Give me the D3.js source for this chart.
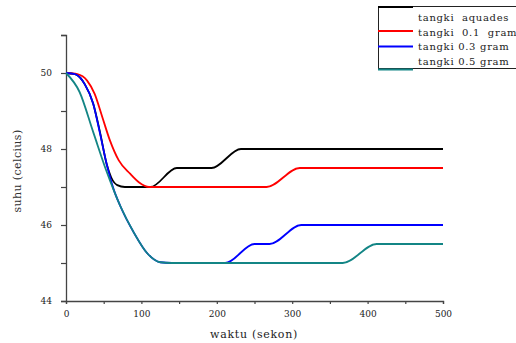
<!DOCTYPE html>
<html>
<head>
<meta charset="utf-8">
<script src="https://cdn.jsdelivr.net/npm/d3@7"></script>
<style>
  body { margin: 0; background: #fff; }
  svg { display: block; }
  text { font-family: "DejaVu Serif", "Liberation Serif", serif; white-space: pre; }
</style>
</head>
<body>
<div id="chart"></div>
<script>
// data
var xTicks = [0, 100, 200, 300, 400, 500];
var yTicks = [44, 46, 48, 50];
var seriesNames = ["tangki  aquades", "tangki  0.1  gram", "tangki 0.3 gram", "tangki 0.5 gram"];
var seriesColors = ["#000000", "#ff0000", "#0000ff", "#138585"];

var aquadesT = [0, 12, 25, 36, 45, 54, 60, 68, 78, 112, 147, 193, 232, 500];
var aquadesV = [50, 49.97, 49.7, 49.2, 48.45, 47.6, 47.25, 47.05, 47, 47, 47.5, 47.5, 48, 48];

var gram01T = [0, 15, 28, 38, 48, 58, 70, 85, 97, 110, 266, 310, 500];
var gram01V = [50, 49.97, 49.8, 49.45, 48.85, 48.24, 47.7, 47.35, 47.12, 47, 47, 47.5, 47.5];

var gram03T = [0, 12, 25, 36, 45, 54, 63, 72, 90, 108, 125, 140, 211, 250, 270, 312, 500];
var gram03V = [50, 49.97, 49.7, 49.2, 48.42, 47.6, 46.95, 46.5, 45.8, 45.25, 45.02, 45, 45, 45.5, 45.5, 46, 46];

var gram05T = [0, 18, 36, 54, 72, 90, 108, 125, 140, 367, 412, 500];
var gram05V = [50, 49.5, 48.45, 47.4, 46.5, 45.8, 45.25, 45.02, 45, 45, 45.5, 45.5];

var svgWidth = 516;
var svgHeight = 343;

var svg = d3.select("#chart")
  .append("svg")
  .attr("width", svgWidth)
  .attr("height", svgHeight);

var x = d3.scaleLinear().domain([0, 500]).range([66, 443]);
var y = d3.scaleLinear().domain([44, 51]).range([301, 35]);

// axes
var xAxis = d3.axisBottom(x)
  .tickValues(d3.range(0, 501, 50))
  .tickSize(3)
  .tickPadding(7)
  .tickFormat(d => xTicks.indexOf(d) >= 0 ? d : "");

var yAxis = d3.axisLeft(y)
  .tickValues(d3.range(44, 52, 1))
  .tickSize(5)
  .tickPadding(9)
  .tickFormat(d => yTicks.indexOf(d) >= 0 ? d : "");

var gx = svg.append("g")
  .attr("transform", "translate(0, 301)")
  .call(xAxis);
var gy = svg.append("g")
  .attr("transform", "translate(66, 0)")
  .call(yAxis);

[gx, gy].forEach(function(g) {
  g.select(".domain").attr("stroke", "#444").attr("stroke-width", 1.3);
  g.selectAll(".tick line").attr("stroke", "#444").attr("stroke-width", 1.2);
  g.selectAll(".tick text")
    .attr("fill", "#222")
    .style("font-family", "DejaVu Serif, serif")
    .style("font-size", "9px");
});

// axis titles
svg.append("text")
  .attr("x", 254)
  .attr("y", 338)
  .attr("text-anchor", "middle")
  .attr("font-size", "11px")
  .attr("letter-spacing", "0.7px")
  .attr("fill", "#222")
  .text("waktu (sekon)");

svg.append("text")
  .attr("transform", "translate(21, 171) rotate(-90)")
  .attr("text-anchor", "middle")
  .attr("font-size", "11px")
  .attr("letter-spacing", "0.4px")
  .attr("fill", "#333")
  .text("suhu (celcius)");

// lines
var series = [
  { t: aquadesT, v: aquadesV },
  { t: gram01T, v: gram01V },
  { t: gram03T, v: gram03V },
  { t: gram05T, v: gram05V }
];

var line = d3.line()
  .x(d => x(d[0]))
  .y(d => y(d[1]))
  .curve(d3.curveMonotoneX);

series.forEach(function(s, i) {
  svg.append("path")
    .datum(d3.zip(s.t, s.v))
    .attr("fill", "none")
    .attr("stroke", seriesColors[i])
    .attr("stroke-width", 1.8)
    .attr("d", line);
});

// legend
var legend = svg.append("g");
legend.append("rect")
  .attr("x", 378.5)
  .attr("y", 6.5)
  .attr("width", 160)
  .attr("height", 62)
  .attr("fill", "#fff")
  .attr("stroke", "#222")
  .attr("stroke-width", 1);

var legendLineY = [7, 31, 46.5, 69.5];
var legendTextY = [21, 36, 50, 65];
seriesNames.forEach(function(name, i) {
  legend.append("line")
    .attr("x1", 378)
    .attr("x2", 413)
    .attr("y1", legendLineY[i])
    .attr("y2", legendLineY[i])
    .attr("stroke", seriesColors[i])
    .attr("stroke-width", 2.2);
  legend.append("text")
    .attr("x", 418)
    .attr("y", legendTextY[i])
    .attr("font-size", "10px")
    .attr("letter-spacing", "0.7px")
    .attr("fill", "#222")
    .text(name);
});
</script>
</body>
</html>
